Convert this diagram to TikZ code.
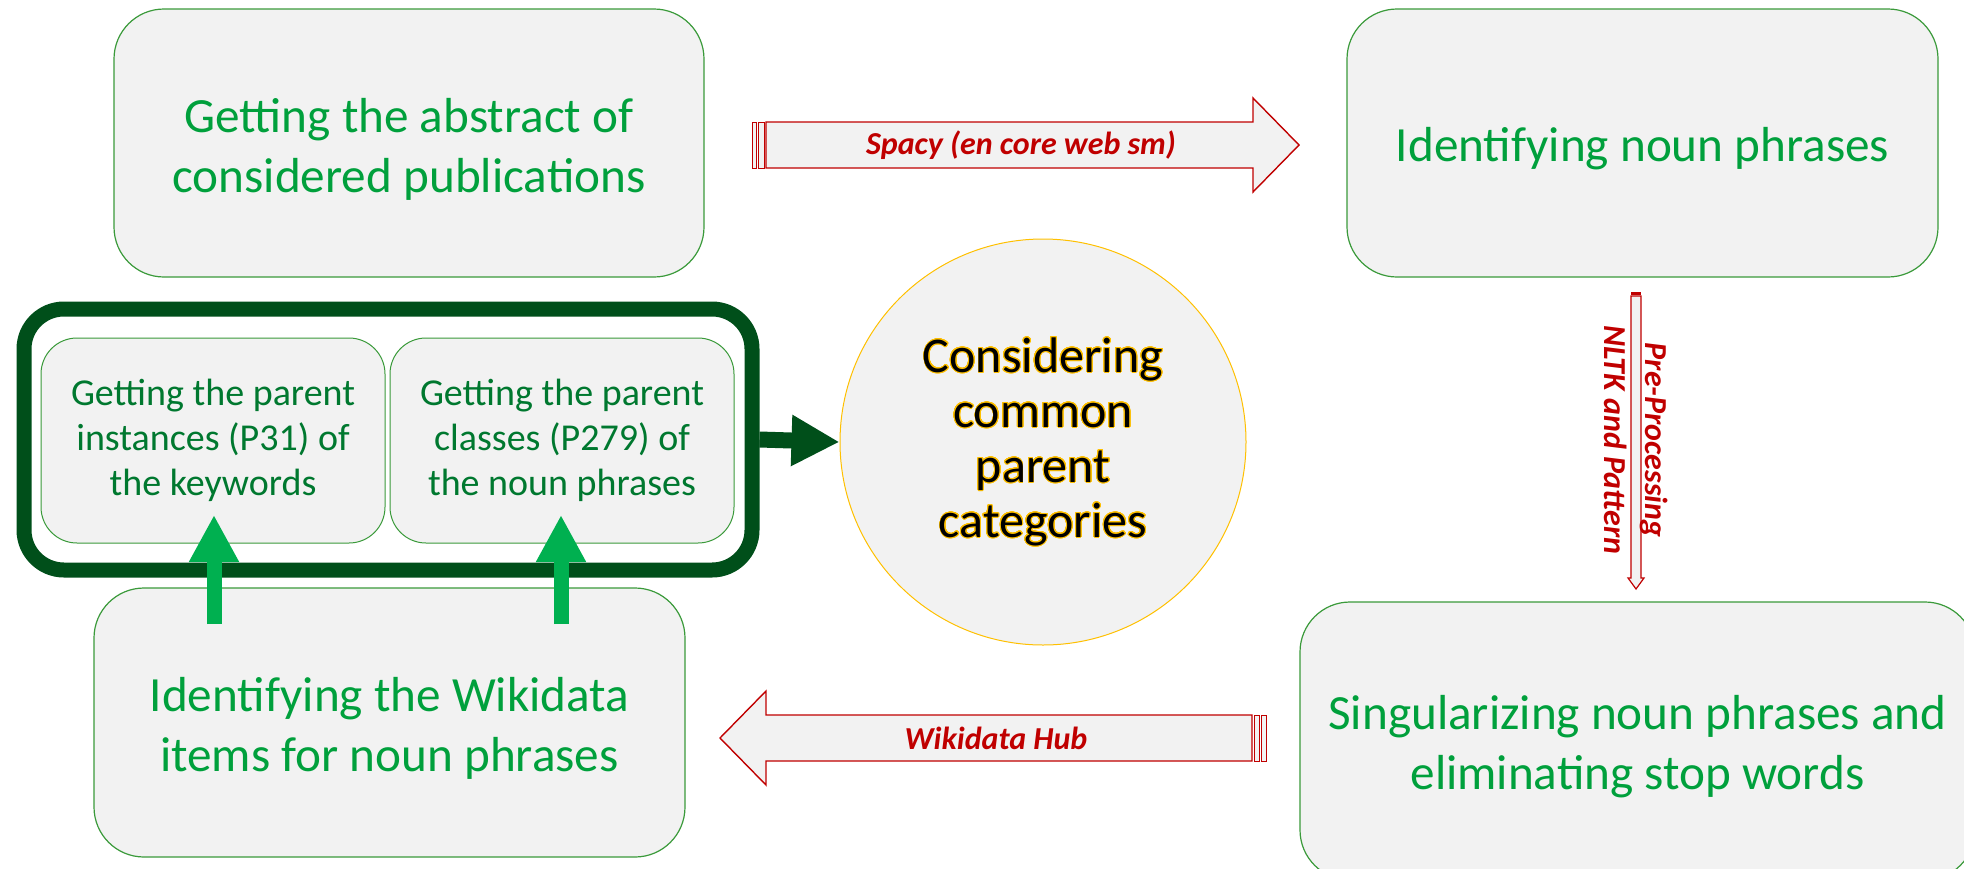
\documentclass[tikz,border=0pt]{standalone}
\usepackage{fontspec}
\setmainfont{Carlito}
\usepackage{contour}
\contourlength{0.45pt}
\contournumber{32}
\usetikzlibrary{arrows.meta,calc}

\definecolor{boxfill}{HTML}{F2F2F2}
\definecolor{boxline}{HTML}{3A9A3A}
\definecolor{textgreen}{HTML}{00A03C}
\definecolor{smallgreen}{HTML}{00782F}
\definecolor{framegreen}{HTML}{004F1A}
\definecolor{upgreen}{HTML}{00B050}
\definecolor{arrowred}{HTML}{C00000}
\definecolor{ringgold}{HTML}{FFC000}

\tikzset{
  stepbox/.style={draw=boxline, line width=0.6pt, fill=boxfill,
    rounded corners=25pt, inner sep=0pt},
  steptext/.style={text=textgreen, align=center, inner sep=0pt, yshift=-3pt,
    font=\fontsize{24.6}{30}\selectfont},
  smallbox/.style={draw=boxline, line width=0.5pt, fill=boxfill,
    rounded corners=18pt, text=smallgreen, align=center, inner sep=0pt,
    minimum width=172pt, minimum height=102.5pt,
    font=\fontsize{19}{22.5}\selectfont},
  groupframe/.style={draw=framegreen, line width=7.5pt, rounded corners=20pt,
    fill=white},
  blockarrow/.style={draw=arrowred, line width=0.7pt, fill=boxfill, line join=miter},
  stripe/.style={draw=arrowred, line width=0.45pt, fill=boxfill},
  arrowlabel/.style={text=arrowred, inner sep=0pt,
    font=\fontsize{16}{20.5}\selectfont\bfseries\itshape},
  uparrow/.style={draw=upgreen, line width=7.5pt,
    -{Triangle[width=23.5pt,length=23.5pt]}},
  grouparrow/.style={draw=framegreen, line width=8pt,
    -{Triangle[width=24pt,length=24pt]}},
}

\begin{document}
\begin{tikzpicture}[x=0.5pt,y=-0.5pt]
\useasboundingbox (0,0) rectangle (1964,868);
\clip (0,0) rectangle (1964,868);

% process steps
\node[stepbox, minimum width=295pt, minimum height=134pt] (abstract) at (409,143) {};
\node[steptext] (abstractT) at (abstract.center)
  {Getting the abstract of\\considered publications};
\node[stepbox, minimum width=295.5pt, minimum height=134pt] (nouns) at (1642.5,143) {};
\node[steptext] (nounsT) at (nouns.center) {Identifying noun phrases};
\node[stepbox, minimum width=337.5pt, minimum height=139pt] (singular) at (1637.5,741) {};
\node[steptext] (singularT) at (singular.center)
  {Singularizing noun phrases and\\eliminating stop words};
\node[stepbox, minimum width=295.5pt, minimum height=134.5pt] (wikidata) at (389.5,722.5) {};
\node[steptext] (wikidataT) at (wikidata.center)
  {Identifying the Wikidata\\items for noun phrases};

% grouped parent lookups
\node[groupframe, minimum width=364pt, minimum height=130.5pt] (group) at (388,439.5) {};
\node[smallbox] (instances) at (213,440.5)
  {Getting the parent\\instances (P31) of\\the keywords};
\node[smallbox] (classes) at (562,440.5)
  {Getting the parent\\classes (P279) of\\the noun phrases};

% common categories
\node[circle, draw=ringgold, line width=0.5pt, fill=boxfill, minimum size=203pt,
  inner sep=0pt, align=center, font=\fontsize{25}{27.5}\selectfont] (common) at (1043,442)
  {\contour{ringgold}{Considering}\\\contour{ringgold}{common}\\
   \contour{ringgold}{parent}\\\contour{ringgold}{categories}};

\draw[grouparrow] (group.east) -- (common.west);

% lookups fed from the Wikidata items
\coordinate (upA0) at (214,624);
\coordinate (upA1) at (214,515);
\coordinate (upB0) at (561,624);
\coordinate (upB1) at (561,515);
\draw[uparrow] (upA0) -- (upA1);
\draw[uparrow] (upB0) -- (upB1);

% striped arrow: spacy
\draw[stripe] (752,122) rectangle (756,168);
\draw[stripe] (758,122) rectangle (764,168);
\draw[blockarrow] (766,122) -- (1253,122) -- (1253,98) -- (1299,145)
  -- (1253,192) -- (1253,168) -- (766,168) -- cycle;
\node[arrowlabel] (spacy) at (1021,145) {Spacy (en core web sm)};

% striped arrow: wikidata hub
\draw[stripe] (1254,715) rectangle (1259,761);
\draw[stripe] (1261,715) rectangle (1266,761);
\draw[blockarrow] (1252,715) -- (766,715) -- (766,691) -- (720,738)
  -- (766,785) -- (766,761) -- (1252,761) -- cycle;
\node[arrowlabel] (hub) at (996,738) {Wikidata Hub};

% striped arrow: pre-processing
\fill[arrowred] (1631,292) rectangle (1641,295);
\draw[blockarrow, line width=0.6pt] (1631,296) -- (1641,296) -- (1641,578) -- (1644,578)
  -- (1636,589) -- (1628,578) -- (1631,578) -- cycle;
\node[arrowlabel, rotate=-90, align=center] (prep) at (1636,440)
  {Pre-Processing\\NLTK and Pattern};
\end{tikzpicture}
\end{document}
